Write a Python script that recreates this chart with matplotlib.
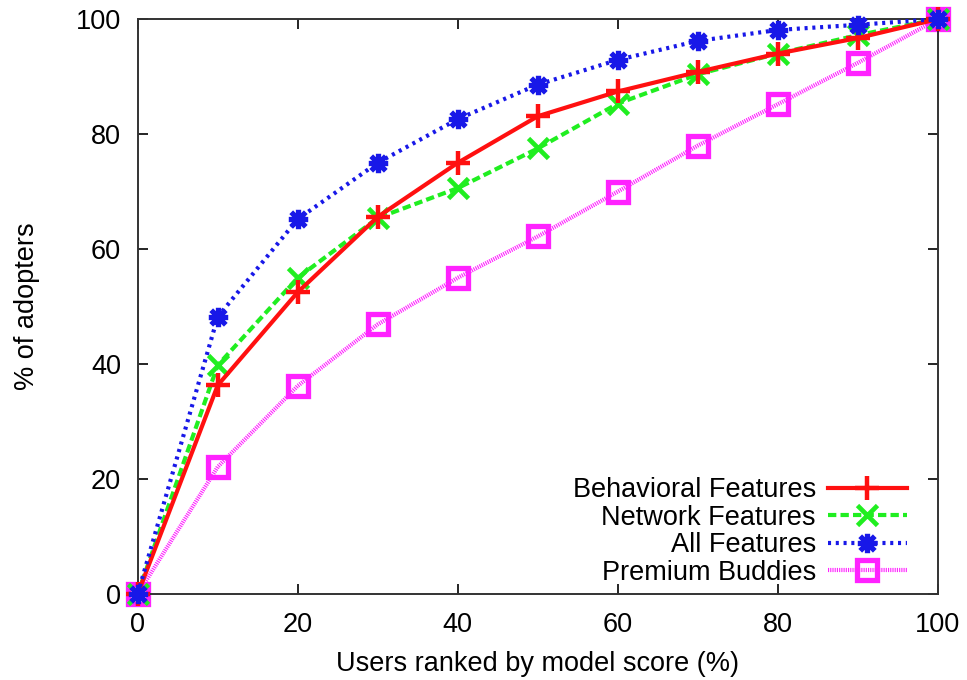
import numpy as np
import matplotlib
matplotlib.use('Agg')
import matplotlib.pyplot as plt
from matplotlib.path import Path

plt.rcParams['font.family'] = ['Liberation Sans', 'DejaVu Sans']
plt.rcParams['lines.scale_dashes'] = False

# data
ranked = [0, 10, 20, 30, 40, 50, 60, 70, 80, 90, 100]
behavioral = [0, 36.3, 52.5, 65.6, 75.0, 83.1, 87.4, 90.8, 94.0, 96.7, 100]
network = [0, 39.8, 55.0, 65.4, 70.6, 77.5, 85.3, 90.4, 94.0, 97.2, 100]
all_feat = [0, 48.2, 65.2, 75.0, 82.6, 88.6, 92.9, 96.2, 98.1, 99.0, 100]
premium = [0, 22.1, 36.2, 46.9, 55.0, 62.2, 70.0, 78.0, 85.2, 92.4, 100]

xticks = [0, 20, 40, 60, 80, 100]
yticks = [0, 20, 40, 60, 80, 100]

# gnuplot style "*" marker: plus and cross on top of each other
star = Path([(-1, 0), (1, 0), (0, -1), (0, 1),
             (-0.75, -0.75), (0.75, 0.75), (-0.75, 0.75), (0.75, -0.75)],
            [Path.MOVETO, Path.LINETO] * 4)

fs = 19.5

fig = plt.figure(figsize=(9.67, 6.8), dpi=100)
ax = fig.add_axes([0.1424, 0.1265, 0.8276, 0.8455])

ax.plot(ranked, behavioral, color='#ff1010', lw=3.0, ls='-',
        marker='+', ms=17, mew=3.2, label='Behavioral Features', clip_on=False, zorder=4)
ax.plot(ranked, network, color='#20ee20', lw=3.0, ls=(0, (6.0, 3.0)),
        marker='x', ms=14, mew=3.4, label='Network Features', clip_on=False, zorder=3)
ax.plot(ranked, all_feat, color='#1818e8', lw=3.0, ls=(0, (2.2, 3.4)),
        marker=star, ms=14, mew=3.8, mfc='none', label='All Features', clip_on=False, zorder=5)
ax.plot(ranked, premium, color='#ff22ff', lw=3.0, ls=(0, (0.8, 0.8)),
        marker='s', ms=14, mew=3.8, mfc='none', label='Premium Buddies', clip_on=False, zorder=2)

ax.set_xlim(0, 100)
ax.set_ylim(0, 100)
ax.set_xticks(xticks)
ax.set_yticks(yticks)
ax.tick_params(direction='in', length=7, width=1.2, top=True, right=True,
               labelsize=fs, pad=12)
ax.tick_params(axis='x', pad=13)
for s in ax.spines.values():
    s.set_linewidth(1.4)
    s.set_color('#333333')

ax.set_xlabel('Users ranked by model score (%)', fontsize=fs, labelpad=9)
ax.set_ylabel('% of adopters', fontsize=fs, labelpad=26)

leg = ax.legend(loc='lower right', bbox_to_anchor=(0.988, -0.023), frameon=False,
                fontsize=fs, markerfirst=False, handlelength=2.9,
                handletextpad=0.45, labelspacing=0.05, borderpad=0.3)
for col in leg._legend_box._children[-1]._children:
    col.align = 'right'

fig.savefig('out.png', dpi=100)
